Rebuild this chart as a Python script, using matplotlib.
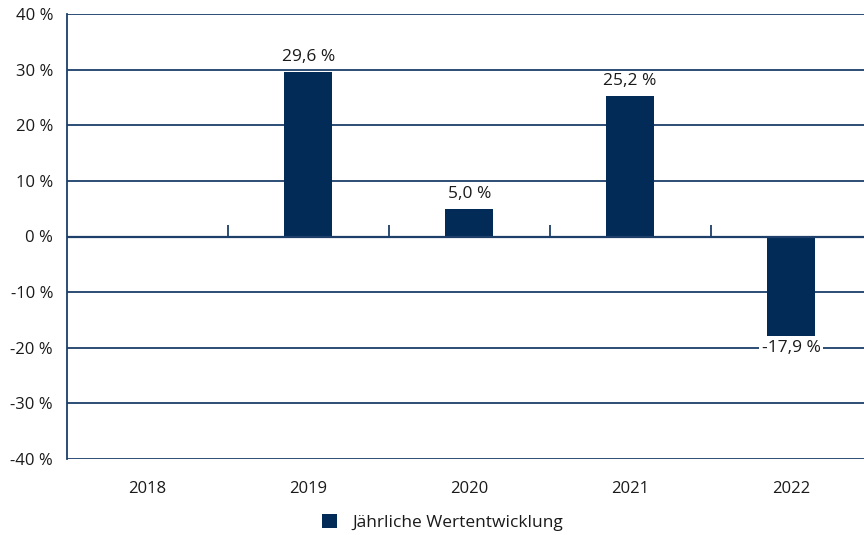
import numpy as np
import matplotlib.pyplot as plt

years = ["2018", "2019", "2020", "2021", "2022"]
values = [np.nan, 29.6, 5.0, 25.2, -17.9]
y_ticks = [-40, -30, -20, -10, 0, 10, 20, 30, 40]

bar_color = "#022b57"
line_color = "#1d3f6a"
txt_color = "#1a1a1a"

plt.rcParams['font.family'] = ['Open Sans', 'DejaVu Sans']

fig = plt.figure(figsize=(8.64, 5.35), dpi=100)
ax = fig.add_axes([67 / 864, 76 / 535, 804.5 / 864, 445 / 535])

x = np.arange(len(years))
ax.bar(x, values, width=0.3, color=bar_color, zorder=3,
       label="Jährliche Wertentwicklung")

for xi, v in zip(x, values):
    if np.isnan(v):
        continue
    s = f"{v:.1f}".replace(".", ",") + " %"
    if v >= 0:
        ax.annotate(s, (xi, v), xytext=(0, 5), textcoords="offset points",
                    ha="center", va="bottom", fontsize=12.5, color=txt_color, zorder=5)
    else:
        ax.annotate(s, (xi, v), xytext=(0, -3), textcoords="offset points",
                    ha="center", va="top", fontsize=12.5, color=txt_color, zorder=5,
                    bbox=dict(boxstyle="square,pad=0.15", fc="white", ec="none"))

ax.set_ylim(-40, 40)
ax.set_xlim(-0.5, len(years) - 0.5)
ax.set_yticks(y_ticks)
ax.set_yticklabels([f"{t} %" for t in y_ticks])
ax.set_xticks(x)
ax.set_xticklabels(years)
ax.tick_params(axis="both", length=0, labelsize=12, labelcolor=txt_color)
ax.tick_params(axis="x", pad=16)
ax.tick_params(axis="y", pad=10)

for t in y_ticks:
    ax.axhline(t, color=line_color, lw=1.3, zorder=1)
ax.axhline(0, color=line_color, lw=1.6, zorder=4)
ax.vlines(x[:-1] + 0.5, 0, 2.1, color=line_color, lw=1.3, zorder=4)

for side in ["top", "right", "bottom"]:
    ax.spines[side].set_visible(False)
ax.spines["left"].set_color(line_color)
ax.spines["left"].set_linewidth(1.3)

fig.legend(loc="center", bbox_to_anchor=(0.512, 0.024), frameon=False,
           fontsize=12.5, handlelength=0.85, handleheight=0.85, handletextpad=0.9,
           labelcolor=txt_color)

fig.savefig("out.png", dpi=100)
